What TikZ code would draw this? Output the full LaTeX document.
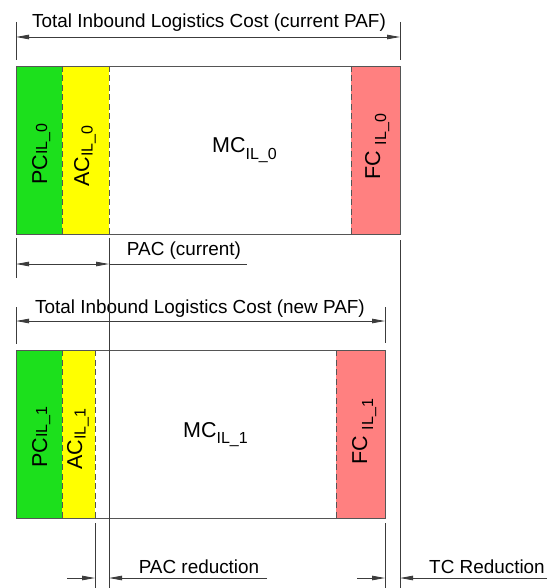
\documentclass[tikz,border=0pt]{standalone}
\usepackage{fontspec}
\setmainfont{Liberation Sans}
\usetikzlibrary{arrows.meta}

\definecolor{pcgreen}{RGB}{28,224,28}
\definecolor{acyellow}{RGB}{255,255,0}
\definecolor{fcred}{RGB}{255,128,128}
\definecolor{edgegray}{RGB}{85,85,85}
\definecolor{dimgray}{RGB}{60,60,60}

% cost component label: main letters with a smaller index lowered by #1
\newcommand{\costlabel}[3][6.5pt]{{\fontsize{21.5}{22}\selectfont #2\raisebox{-#1}{\fontsize{16}{17}\selectfont #3}}}

\begin{document}
\begin{tikzpicture}[x=1pt,y=-1pt,
  segment/.style={draw=edgegray, line width=0.9pt},
  divider/.style={draw=edgegray, line width=0.8pt, dash pattern=on 6pt off 3.5pt},
  dimension/.style={draw=dimgray, line width=0.8pt},
  dimarrow/.style={dimension, -{Triangle[length=13pt,width=4.5pt]}},
  dimboth/.style={dimension, {Triangle[length=13pt,width=4.5pt]}-{Triangle[length=13pt,width=4.5pt]}},
  caption/.style={font=\fontsize{18.9}{20}\selectfont, inner sep=0pt, anchor=base},
  vlabel/.style={rotate=90, inner sep=0pt, anchor=base west},
  hlabel/.style={inner sep=0pt, anchor=base west},
]
\useasboundingbox (0,0) rectangle (547,588);

% ---------- current PAF ----------
\fill[pcgreen]  (16,66) rectangle (62,234);
\fill[acyellow] (62,66) rectangle (109,234);
\fill[fcred]    (351,66) rectangle (400,234);
\draw[divider] (62,66) -- (62,234);
\draw[divider] (109,66) -- (109,234);
\draw[divider] (351,66) -- (351,234);
\draw[segment] (16,66) rectangle (400,234);

\node[vlabel] (pc0) at (47,185) {\costlabel[0pt]{PC}{IL\_0}};
\node[vlabel] (ac0) at (89,187) {\costlabel[3.5pt]{AC}{IL\_0}};
\node[hlabel] (mc0) at (212,153) {\costlabel{MC}{IL\_0}};
\node[vlabel] (fc0) at (380,180) {\costlabel[6pt]{FC }{IL\_0}};

% total cost dimension (current)
\coordinate (t0a) at (16,22);  \coordinate (t0b) at (16,60);
\coordinate (t0c) at (400,22); \coordinate (t0d) at (400,60);
\coordinate (t0l) at (16,37);  \coordinate (t0r) at (400,37);
\draw[dimension] (t0a) -- (t0b);
\draw[dimension] (t0c) -- (t0d);
\draw[dimboth] (t0l) -- (t0r);
\node[caption] (title0) at (209,28) {Total Inbound Logistics Cost (current PAF)};

% PAC (current) dimension and long reference lines
\coordinate (p0a) at (16,238);  \coordinate (p0b) at (16,278);
\coordinate (acEnd) at (109,238); \coordinate (acEndB) at (109,588);
\coordinate (tcEnd) at (400,240); \coordinate (tcEndB) at (400,588);
\coordinate (p0l) at (16,264); \coordinate (p0r) at (109,264); \coordinate (p0x) at (247,264);
\draw[dimension] (p0a) -- (p0b);
\draw[dimboth] (p0l) -- (p0r);
\draw[dimension] (p0r) -- (p0x);
\node[caption] (pac0) at (184,255) {PAC (current)};

% ---------- new PAF ----------
\fill[pcgreen]  (16,350) rectangle (62,518);
\fill[acyellow] (62,350) rectangle (95,518);
\fill[fcred]    (336,350) rectangle (385,518);
\draw[divider] (62,350) -- (62,518);
\draw[divider] (95,350) -- (95,518);
\draw[divider] (336,350) -- (336,518);
\draw[segment] (16,350) rectangle (385,518);

\node[vlabel] (pc1) at (47,468) {\costlabel[0pt]{PC}{IL\_1}};
\node[vlabel] (ac1) at (82,470) {\costlabel[3.5pt]{AC}{IL\_1}};
\node[hlabel] (mc1) at (183,437) {\costlabel{MC}{IL\_1}};
\node[vlabel] (fc1) at (367,465) {\costlabel[6pt]{FC }{IL\_1}};

% total cost dimension (new)
\coordinate (t1a) at (16,307);  \coordinate (t1b) at (16,344);
\coordinate (t1c) at (385,307); \coordinate (t1d) at (385,343);
\coordinate (t1l) at (16,321);  \coordinate (t1r) at (385,321);
\node[caption] (title1) at (200,313) {Total Inbound Logistics Cost (new PAF)};
\draw[dimension] (t1a) -- (t1b);
\draw[dimension] (t1c) -- (t1d);
\draw[dimboth] (t1l) -- (t1r);

% long reference lines from the current PAF
\draw[dimension] (acEnd) -- (acEndB);
\draw[dimension] (tcEnd) -- (tcEndB);

% reductions
\coordinate (ac1a) at (95,523);  \coordinate (ac1b) at (95,588);
\coordinate (fc1a) at (385,523); \coordinate (fc1b) at (385,588);
\draw[dimension] (ac1a) -- (ac1b);
\draw[dimension] (fc1a) -- (fc1b);

\coordinate (r1s) at (67,578);  \coordinate (r1e) at (95,578);
\coordinate (r2s) at (267,578); \coordinate (r2e) at (109,578);
\coordinate (r3s) at (357,578); \coordinate (r3e) at (385,578);
\coordinate (r4s) at (547,578); \coordinate (r4e) at (400,578);
\draw[dimarrow] (r1s) -- (r1e);
\draw[dimarrow] (r2s) -- (r2e);
\draw[dimarrow] (r3s) -- (r3e);
\draw[dimarrow] (r4s) -- (r4e);
\node[caption] (pacred) at (199,573) {PAC reduction};
\node[caption] (tcred) at (487,573) {TC Reduction};
\end{tikzpicture}
\end{document}
